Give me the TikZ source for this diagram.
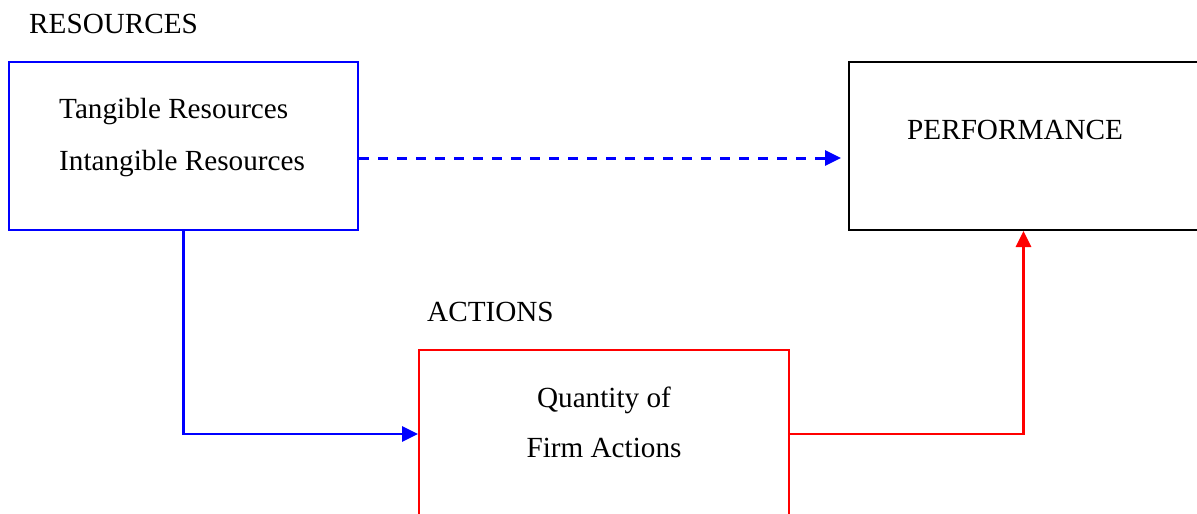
\documentclass[tikz,border=0pt]{standalone}
\usepackage{fontspec}
\setmainfont{Liberation Serif}
\usetikzlibrary{arrows.meta}
\begin{document}
\begin{tikzpicture}[x=1pt,y=-1pt,
  every node/.style={font=\fontsize{29.2}{35}\selectfont},
  lbl/.style={anchor=base west,inner sep=0pt},
  clbl/.style={anchor=base,inner sep=0pt},
  boxstyle/.style={draw,line width=2pt,rectangle,inner sep=0pt},
  conn/.style={line width=2.8pt,-{Triangle[length=16pt,width=15pt]}}]
\useasboundingbox (0,0) rectangle (1197,514);
\clip (0,0) rectangle (1197,514);
% boxes
\node[boxstyle,draw=blue,minimum width=349pt,minimum height=168pt] (res) at (183.5,146) {};
\node[boxstyle,draw=black,minimum width=349pt,minimum height=168pt] (perf) at (1023.5,146) {};
\node[boxstyle,draw=red,minimum width=370pt,minimum height=168pt] (act) at (604,434) {};
% labels
\node[lbl] (tres) at (29,33) {RESOURCES};
\node[lbl] (tang) at (59,118) {Tangible Resources};
\node[lbl] (intang) at (59,170) {Intangible Resources};
\node[lbl] (tperf) at (907,139) {PERFORMANCE};
\node[lbl] (tact) at (427,321) {ACTIONS};
\node[clbl] (qty) at (604,407) {Quantity of};
\node[clbl] (firm) at (604,457) {Firm Actions};
% connectors
\draw[conn,blue,line width=3pt,dash pattern=on 10pt off 9pt,shorten >=7pt] ([yshift=-12pt]res.east) -- ([yshift=-12pt]perf.west);
\draw[conn,blue] (res.south) |- (act.west);
\draw[conn,red] (act.east) -| (perf.south);
\end{tikzpicture}
\end{document}
